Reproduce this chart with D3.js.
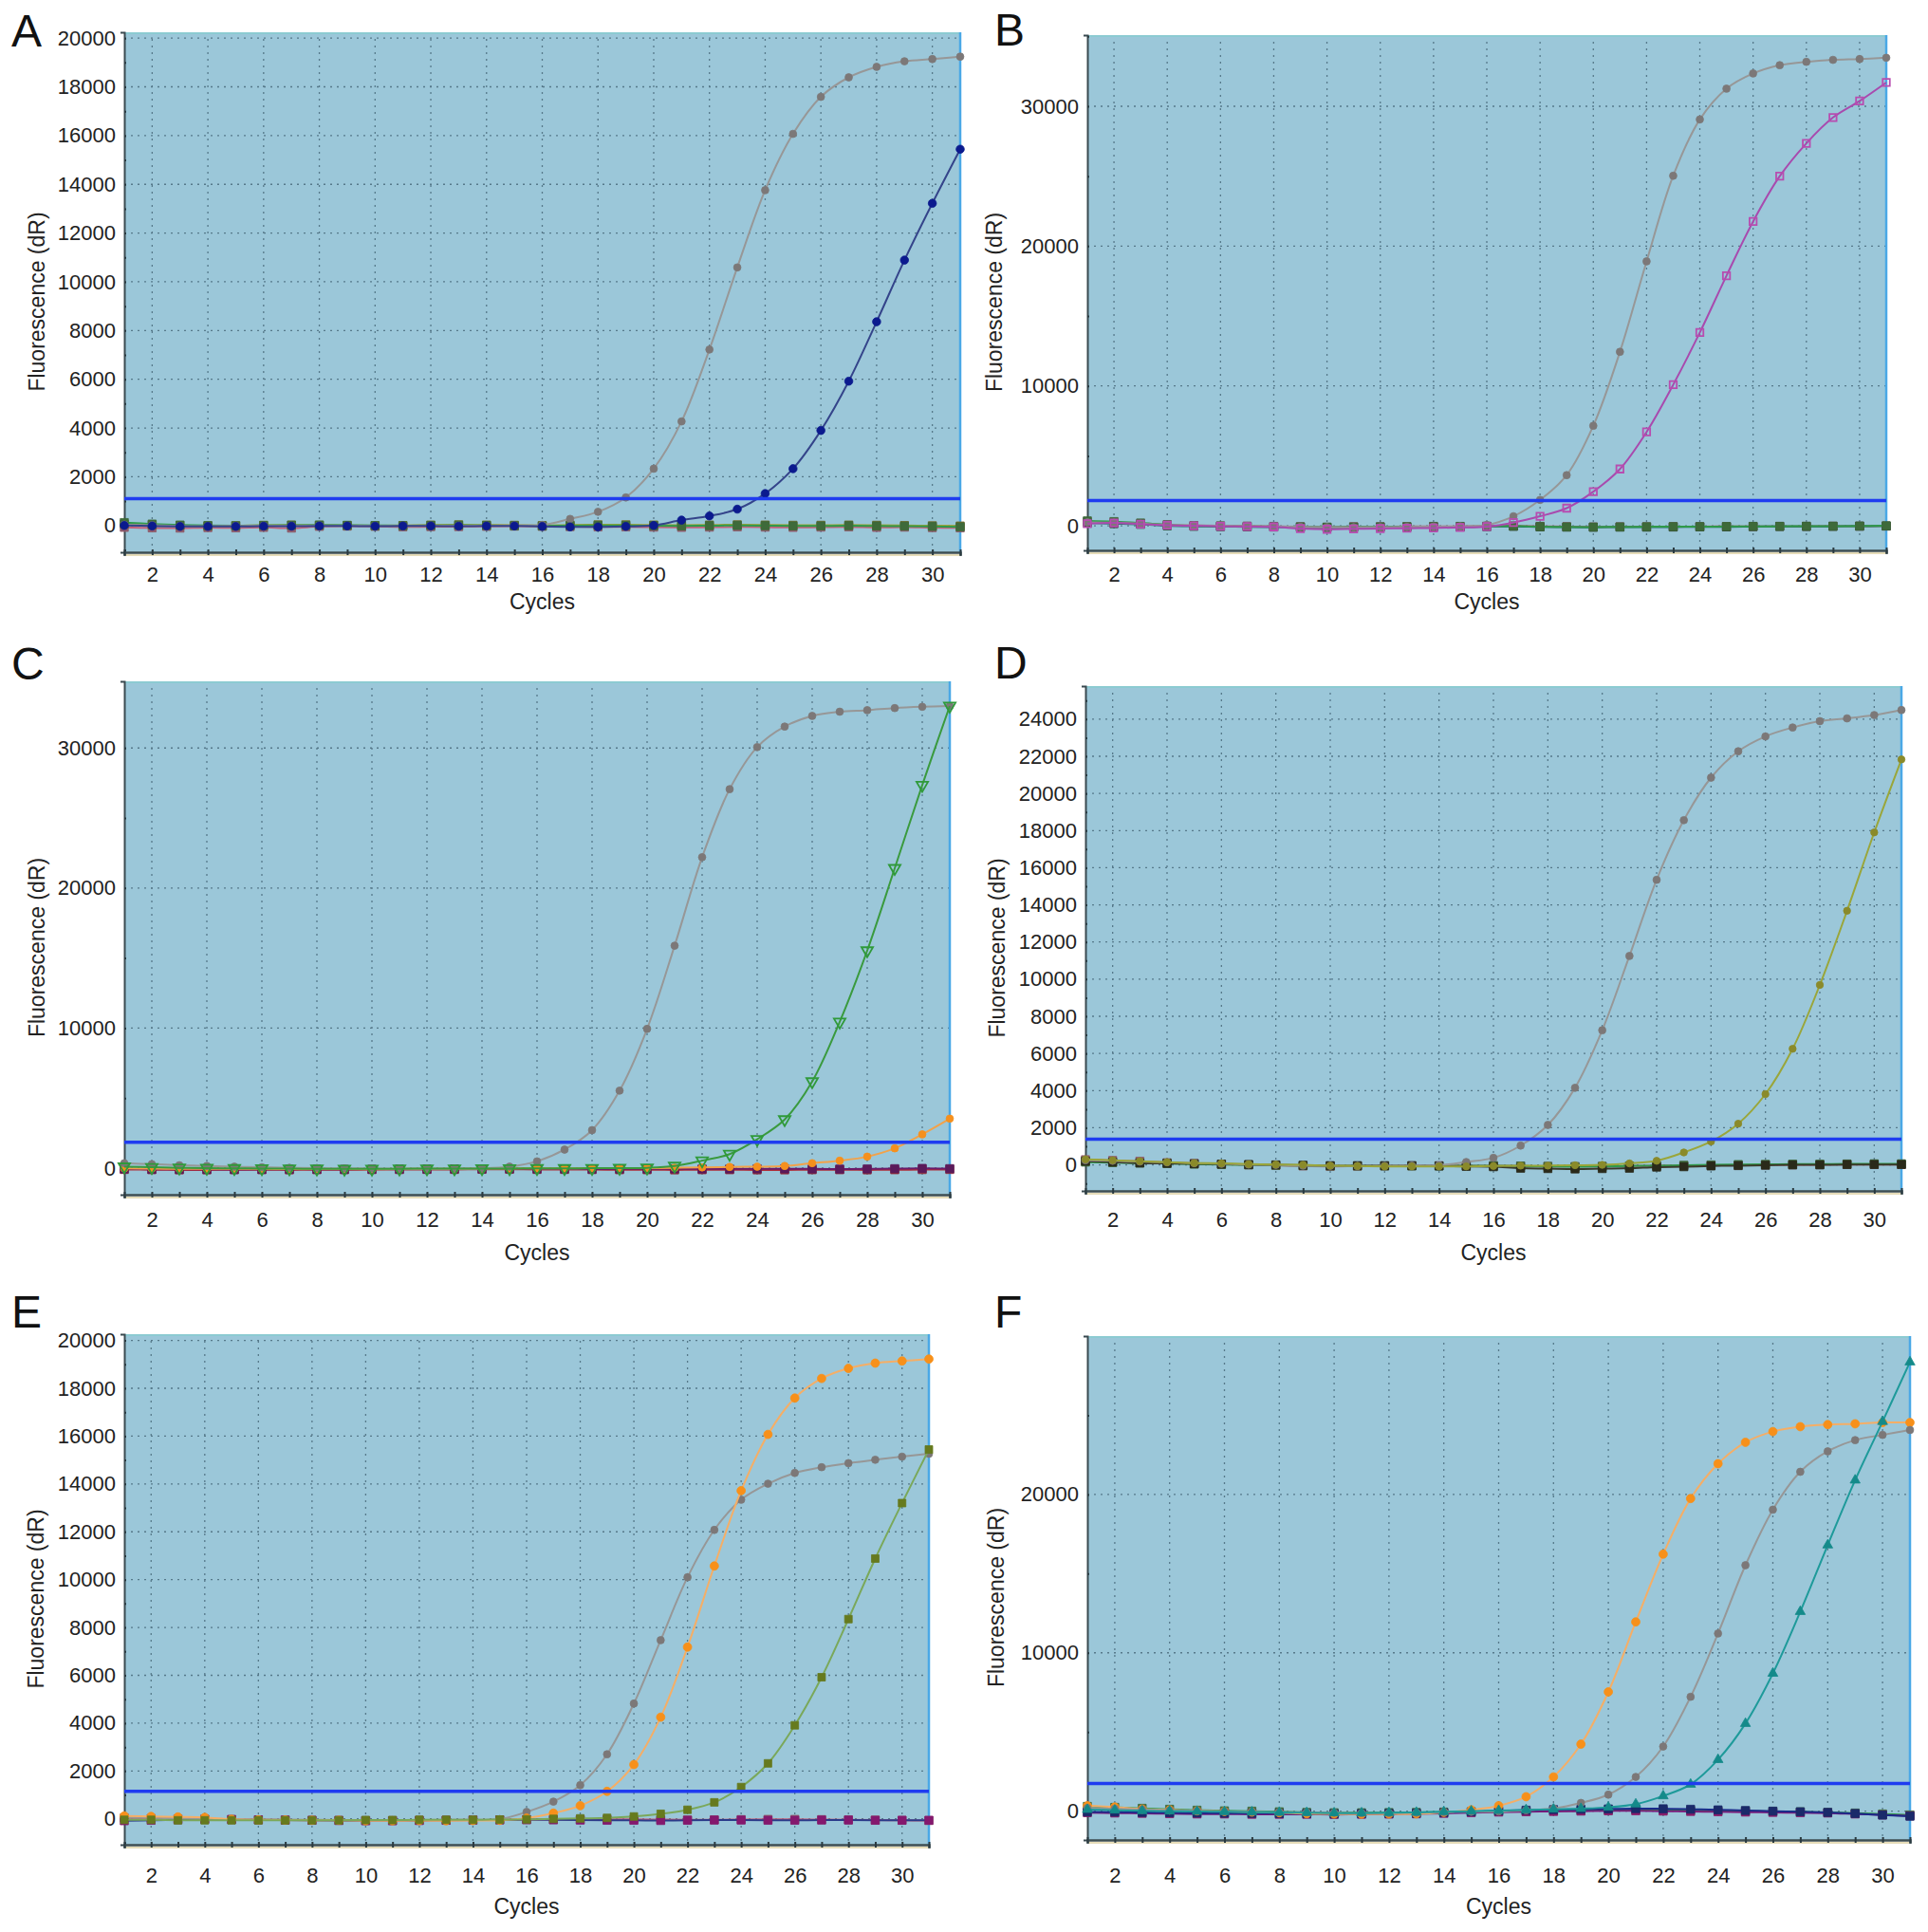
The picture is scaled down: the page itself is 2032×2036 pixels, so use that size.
<!DOCTYPE html>
<html>
<head>
<meta charset="utf-8">
<script src="https://cdn.jsdelivr.net/npm/d3@7"></script>
<style>
  body { margin: 0; background: #fff; }
  svg { display: block; font-family: "Liberation Sans", Arial, Helvetica, sans-serif; }
</style>
</head>
<body>
<div id="fig"></div>
<script>
var width = 2032,
    height = 2036;

// cycles on the x axis
var cycles = [1,2,3,4,5,6,7,8,9,10,11,12,13,14,15,16,17,18,19,20,21,22,23,24,25,26,27,28,29,30,31];
var xTickLabels = [2,4,6,8,10,12,14,16,18,20,22,24,26,28,30];

// panel A
var aGray  = [30,10,-20,-30,-20,-10,-10,0,-10,-20,-20,-10,-10,-10,0,20,270,560,1150,2330,4270,7220,10590,13760,16070,17590,18390,18820,19050,19140,19240];
var aNavy  = [0,-20,-40,-40,-40,-30,-30,-20,-20,-30,-20,-20,-30,-20,-20,-40,-60,-60,-40,0,220,390,670,1310,2330,3900,5920,8360,10890,13220,15440];
var aBase1 = [120,60,20,0,-10,0,10,20,10,0,-10,0,10,0,-10,-20,-10,0,0,-10,-20,-10,0,-10,-20,-20,-10,-20,-30,-40,-60];
var aBase2 = [-80,-100,-110,-90,-100,-80,-110,-40,-30,-40,-60,-50,-50,-40,-30,-40,-50,-60,-60,-70,-80,-70,-60,-70,-80,-70,-60,-80,-70,-90,-100];
var aBase3 = [60,20,0,-20,-10,10,20,10,0,-10,0,20,30,20,10,0,20,30,30,20,10,20,30,20,10,10,20,10,0,-10,-20];
var aTicks = [0,2000,4000,6000,8000,10000,12000,14000,16000,18000,20000];
var aThreshold = 1100;

// panel B
var bGray    = [250,220,150,60,30,0,-20,-40,-80,-100,-110,-100,-80,-60,-40,60,680,1850,3620,7150,12440,18910,25030,29060,31260,32350,32940,33180,33320,33380,33470];
var bMagenta = [150,200,120,40,0,-40,-60,-80,-200,-250,-220,-200,-180,-160,-120,-60,230,680,1260,2440,4060,6710,10090,13820,17880,21760,25000,27350,29200,30380,31700];
var bBase1   = [350,300,200,80,0,-20,-40,-60,-80,-100,-90,-80,-70,-60,-60,-40,-20,-60,-80,-90,-80,-70,-60,-60,-50,-40,-40,-30,-30,-20,0];
var bBase2   = [200,150,100,0,-40,-60,-80,-90,-100,-120,-110,-100,-100,-90,-80,-60,-40,-80,-100,-110,-100,-100,-90,-80,-80,-60,-50,-50,-40,-30,-20];
var bBase3   = [300,250,150,60,20,0,-20,-40,-60,-100,-60,-60,-50,-40,-40,-30,-20,-40,-60,-80,-70,-70,-60,-60,-50,-50,-40,-40,-30,-30,-20];
var bTicks = [0,10000,20000,30000];
var bThreshold = 1800;

// panel C
var cGray   = [350,280,200,150,100,60,20,0,-20,-30,-40,-40,-30,-20,100,480,1320,2710,5530,9940,15880,22200,27060,30060,31530,32290,32590,32700,32850,32940,33000];
var cGreen  = [100,60,20,0,-20,-30,-40,-50,-60,-60,-50,-40,-40,-30,-30,-20,-20,-10,0,20,150,530,1000,2060,3470,6180,10440,15530,21410,27350,33000];
var cOrange = [-20,-40,-50,-60,-60,-60,-70,-70,-70,-80,-60,-50,-50,-40,-30,-20,-20,-10,0,0,20,50,80,100,150,350,530,820,1410,2410,3530];
var cBase1  = [-100,-120,-130,-130,-120,-120,-130,-120,-120,-110,-110,-100,-100,-90,-90,-100,-100,-110,-120,-120,-130,-120,-120,-130,-130,-120,-120,-130,-120,-110,-100];
var cBase2  = [-60,-80,-90,-90,-100,-90,-80,-80,-90,-80,-70,-70,-60,-60,-50,-60,-60,-70,-60,-60,-50,-60,-60,-50,-50,-60,-70,-60,-40,-20,-40];
var cTicks = [0,10000,20000,30000];
var cThreshold = 1850;

// panel D
var dGray  = [250,220,180,140,100,60,20,0,-40,-50,-60,-50,-40,-20,155,380,1040,2150,4150,7250,11250,15350,18560,20850,22270,23070,23550,23890,24040,24220,24490];
var dOlive = [300,250,200,150,100,80,40,20,0,-40,-60,-80,-80,-80,-80,-60,-40,-40,-20,0,80,220,670,1260,2220,3810,6250,9690,13680,17900,21830];
var dBase1 = [200,150,100,80,60,40,20,0,-20,-40,-40,-40,-40,-60,-80,-100,-180,-200,-220,-200,-180,-120,-100,-60,-40,-20,0,0,20,20,20];
var dBase2 = [150,120,100,80,40,20,0,-20,-40,-60,-60,-60,-60,-60,-40,-40,-60,-80,-100,-80,-60,-40,-20,0,20,30,40,40,50,60,60];
var dBase3 = [280,240,200,120,80,40,0,-20,-60,-80,-70,-60,-50,-40,-40,-40,-60,-80,-90,-80,-60,-40,-40,-20,-20,0,0,10,20,20,20];
var dTicks = [0,2000,4000,6000,8000,10000,12000,14000,16000,18000,20000,22000,24000];
var dThreshold = 1380;

// panel E
var eGray   = [60,40,20,0,-10,-20,-30,-40,-50,-50,-60,-50,-40,-30,-10,290,720,1410,2700,4820,7470,10100,12080,13340,14010,14460,14700,14870,15010,15140,15260];
var eOrange = [120,100,80,60,-20,-40,-50,-60,-60,-80,-80,-70,-80,-70,-60,30,240,550,1150,2270,4250,7180,10570,13720,16070,17590,18410,18830,19050,19140,19220];
var eOlive  = [-40,-40,-60,-60,-60,-60,-60,-60,-60,-50,-50,-40,-40,-40,-30,-20,0,20,40,100,210,380,690,1330,2320,3910,5920,8350,10880,13200,15440];
var eBase1  = [-80,-60,-40,-20,-30,-40,-50,-60,-70,-80,-80,-70,-60,-50,-40,-30,-40,-50,-60,-60,-70,-60,-50,-50,-60,-60,-50,-50,-60,-60,-60];
var eBase2  = [40,20,0,-10,-20,-40,-50,-60,-60,-70,-70,-60,-60,-50,-50,-40,-30,-30,-20,-20,-30,-40,-40,-30,-20,-20,-30,-40,-50,-60,-70];
var eTicks = [0,2000,4000,6000,8000,10000,12000,14000,16000,18000,20000];
var eThreshold = 1150;

// panel F
var fOrange = [340,260,130,80,20,-20,-60,-100,-160,-180,-190,-180,-170,-80,80,340,910,2160,4230,7530,11950,16230,19740,21940,23290,23970,24280,24410,24460,24540,24540];
var fGray   = [200,150,100,50,20,-20,-40,-60,-80,-100,-120,-120,-100,-60,-40,-20,60,180,520,1040,2160,4080,7220,11220,15530,19040,21430,22720,23430,23760,24070];
var fTeal   = [100,60,20,0,-20,-40,-60,-80,-100,-120,-120,-100,-80,-40,0,40,80,120,160,240,440,960,1690,3250,5530,8700,12600,16800,20900,24600,28360];
var fBase1  = [-50,-60,-80,-100,-120,-130,-140,-150,-160,-170,-160,-150,-140,-100,-40,20,60,100,120,140,160,150,120,80,40,0,-40,-80,-150,-250,-320];
var fBase2  = [-100,-120,-140,-160,-180,-180,-200,-200,-200,-210,-200,-190,-170,-140,-100,-60,-40,-20,0,20,20,0,-20,-40,-60,-80,-100,-120,-180,-240,-300];
var fBase3  = [300,240,180,120,60,20,0,-40,-80,-100,-100,-90,-80,-60,-40,-20,0,20,40,60,80,60,40,20,0,-20,-40,-80,-120,-180,-240];
var fTicks = [0,10000,20000];
var fThreshold = 1740;

var svg = d3.select("#fig").append("svg")
    .attr("width", width)
    .attr("height", height)

// series style helpers
function gray(v){ return {v: v, line: "#979797", mark: "#7c7878", shape: d3.symbolCircle, size: 48, fill: true}; }
function base(v, line, mark){ return {v: v, line: line, mark: mark, shape: d3.symbolSquare, size: 72, fill: true}; }

var panels = [
  {letter: "A", lx: 12, ly: 49, left: 131, right: 1012, top: 34, bottom: 582, yDomain: [-1100, 20240],
   ticks: aTicks, minor: 1000, thr: aThreshold, tickY: 605, cycY: 634, titleX: 39,
   series: [
     base(aBase2, "#c2607a", "#8e5a6a"), base(aBase3, "#a3a33a", "#6e6a2a"), base(aBase1, "#2f9a4a", "#3e6a3a"),
     gray(aGray),
     {v: aNavy, line: "#34448a", mark: "#0b1a8e", shape: d3.symbolCircle, size: 58, fill: true}
   ]},
  {letter: "B", lx: 1048, ly: 48, left: 1146, right: 1988, top: 37, bottom: 580, yDomain: [-1760, 35090],
   ticks: bTicks, minor: 5000, thr: bThreshold, tickY: 605, cycY: 634, titleX: 1048,
   series: [
     base(bBase3, "#c0607a", "#8e5a6a"), base(bBase2, "#1e6a6a", "#2a3a2a"), base(bBase1, "#2f9a4a", "#3e6a3a"),
     gray(bGray),
     {v: bMagenta, line: "#a84aae", mark: "#b84cb0", shape: d3.symbolSquare, size: 56, fill: false}
   ]},
  {letter: "C", lx: 12, ly: 716, left: 131, right: 1001, top: 718, bottom: 1259, yDomain: [-1900, 34760],
   ticks: cTicks, minor: 5000, thr: cThreshold, tickY: 1285, cycY: 1320, titleX: 39,
   series: [
     base(cBase1, "#b0303a", "#8e2a3a"), base(cBase2, "#6a1a6a", "#5a1a5a"),
     {v: cOrange, line: "#f2a24a", mark: "#f5901e", shape: d3.symbolCircle, size: 48, fill: true},
     gray(cGray),
     {v: cGreen, line: "#3a9a3e", mark: "#2f9a3a", shape: d3.symbolTriangle, size: 64, fill: false, rot: 180}
   ]},
  {letter: "D", lx: 1048, ly: 715, left: 1144, right: 2004, top: 723, bottom: 1255, yDomain: [-1400, 25780],
   ticks: dTicks, minor: 1000, thr: dThreshold, tickY: 1285, cycY: 1320, titleX: 1051,
   series: [
     base(dBase3, "#c0607a", "#8e5a6a"), base(dBase2, "#2f9a4a", "#3e6a3a"), base(dBase1, "#3a3a2a", "#2a2a1a"),
     gray(dGray),
     {v: dOlive, line: "#9aa63a", mark: "#8a8a2a", shape: d3.symbolCircle, size: 44, fill: true}
   ]},
  {letter: "E", lx: 12, ly: 1399, left: 131, right: 979, top: 1406, bottom: 1944, yDomain: [-1080, 20260],
   ticks: eTicks, minor: 1000, thr: eThreshold, tickY: 1976, cycY: 2009, titleX: 38,
   series: [
     base(eBase2, "#c0607a", "#8e5a6a"), base(eBase1, "#2a3a8a", "#84186e"),
     gray(eGray),
     {v: eOrange, line: "#f5ae66", mark: "#f7901a", shape: d3.symbolCircle, size: 62, fill: true},
     {v: eOlive, line: "#7aa85a", mark: "#667a1e", shape: d3.symbolSquare, size: 64, fill: true}
   ]},
  {letter: "F", lx: 1048, ly: 1399, left: 1146, right: 2013, top: 1408, bottom: 1939, yDomain: [-1820, 30000],
   ticks: fTicks, minor: 5000, thr: fThreshold, tickY: 1976, cycY: 2009, titleX: 1050,
   series: [
     base(fBase3, "#2f9a4a", "#3e6a3a"), base(fBase2, "#7a1a7a", "#8a1a6a"), base(fBase1, "#1a2a8a", "#1a2a6a"),
     {v: fOrange, line: "#f5ae66", mark: "#f7901a", shape: d3.symbolCircle, size: 62, fill: true},
     gray(fGray),
     {v: fTeal, line: "#1e9a9a", mark: "#148a8a", shape: d3.symbolTriangle, size: 48, fill: true}
   ]}
];

panels.forEach(drawPanel);

function drawPanel(p){
  var x = d3.scaleLinear().domain([1, 31]).range([p.left, p.right]);
  var y = d3.scaleLinear().domain(p.yDomain).range([p.bottom, p.top]);
  var g = svg.append("g");

  // panel letter
  g.append("text").attr("x", p.lx).attr("y", p.ly)
    .attr("font-size", 48).attr("fill", "#111").text(p.letter);

  // plot background
  g.append("rect").attr("x", p.left).attr("y", p.top)
    .attr("width", p.right - p.left).attr("height", p.bottom - p.top)
    .attr("fill", "#9bc7d9");

  // grid
  g.append("g").selectAll("line").data(xTickLabels).join("line")
    .attr("x1", d => x(d)).attr("x2", d => x(d))
    .attr("y1", p.top).attr("y2", p.bottom)
    .attr("stroke", "#56798a").attr("stroke-width", 1.3).attr("stroke-dasharray", "2,5");
  g.append("g").selectAll("line").data(p.ticks).join("line")
    .attr("x1", p.left).attr("x2", p.right)
    .attr("y1", d => y(d)).attr("y2", d => y(d))
    .attr("stroke", "#56798a").attr("stroke-width", 1.3).attr("stroke-dasharray", "2,5");

  // borders
  g.append("line").attr("x1", p.left).attr("x2", p.right).attr("y1", p.top + 1).attr("y2", p.top + 1)
    .attr("stroke", "#8ccbd2").attr("stroke-width", 2);
  g.append("line").attr("x1", p.right).attr("x2", p.right).attr("y1", p.top).attr("y2", p.bottom)
    .attr("stroke", "#4aa8e6").attr("stroke-width", 2.5);
  g.append("line").attr("x1", p.left).attr("x2", p.right).attr("y1", p.bottom + 3).attr("y2", p.bottom + 3)
    .attr("stroke", "#e6dcb8").attr("stroke-width", 2);

  // y axis
  var minorTicks = d3.range(Math.ceil(p.yDomain[0] / p.minor) * p.minor, p.yDomain[1], p.minor);
  var yAxis = d3.axisLeft(y).tickValues(minorTicks).tickSize(4)
    .tickFormat(d => p.ticks.indexOf(d) >= 0 ? d : "");
  var ya = g.append("g").attr("transform", "translate(" + p.left + ",0)").call(yAxis);
  ya.select(".domain").attr("stroke", "#3a4a50").attr("stroke-width", 2);
  ya.selectAll(".tick line").attr("stroke", "#2a3a40").attr("stroke-width", 2).attr("x2", 2);
  ya.selectAll(".tick text").attr("x", -9).attr("font-size", 22).attr("fill", "#222")
    .attr("font-family", "'Liberation Sans', Arial, sans-serif");

  // x axis
  var xAxis = d3.axisBottom(x).tickValues(cycles).tickSize(4)
    .tickFormat(d => xTickLabels.indexOf(d) >= 0 ? d : "");
  var xa = g.append("g").attr("transform", "translate(0," + p.bottom + ")").call(xAxis);
  xa.select(".domain").attr("stroke", "#3e4e52").attr("stroke-width", 2.5);
  xa.selectAll(".tick line").attr("stroke", "#2a3a40").attr("stroke-width", 2).attr("y1", -3).attr("y2", 3);
  xa.selectAll(".tick text").attr("y", p.tickY - p.bottom).attr("dy", "0.35em")
    .attr("font-size", 22).attr("fill", "#222")
    .attr("font-family", "'Liberation Sans', Arial, sans-serif");

  // axis titles
  g.append("text").attr("x", (p.left + p.right) / 2).attr("y", p.cycY).attr("dy", "0.35em")
    .attr("text-anchor", "middle").attr("font-size", 23).attr("fill", "#222").text("Cycles");
  var my = (p.top + p.bottom) / 2 + 10;
  g.append("text").attr("transform", "translate(" + p.titleX + "," + my + ") rotate(-90)")
    .attr("dy", "0.35em").attr("text-anchor", "middle").attr("font-size", 23).attr("fill", "#222")
    .text("Fluorescence (dR)");

  // curves
  var line = d3.line()
    .x((d, i) => x(cycles[i]))
    .y(d => y(d))
    .curve(d3.curveCatmullRom.alpha(0.5));

  p.series.forEach(function(s){
    g.append("path").datum(s.v).attr("d", line)
      .attr("fill", "none").attr("stroke", s.line).attr("stroke-width", 2);
    var sym = d3.symbol().type(s.shape).size(s.size);
    g.append("g").selectAll("path").data(s.v).join("path")
      .attr("d", sym)
      .attr("transform", (d, i) => "translate(" + x(cycles[i]) + "," + y(d) + ")" + (s.rot ? " rotate(" + s.rot + ")" : ""))
      .attr("fill", s.fill ? s.mark : "none")
      .attr("stroke", s.mark).attr("stroke-width", s.fill ? 0.8 : 1.8);
  });

  // threshold
  g.append("line").attr("x1", p.left).attr("x2", p.right)
    .attr("y1", y(p.thr)).attr("y2", y(p.thr))
    .attr("stroke", "#1f3cf0").attr("stroke-width", 3.5);
}
</script>
</body>
</html>
